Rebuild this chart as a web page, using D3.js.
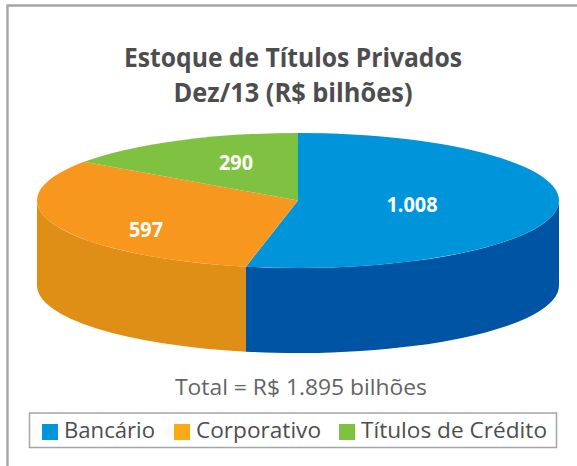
<!DOCTYPE html>
<html><head><meta charset="utf-8">
<script src="https://cdn.jsdelivr.net/npm/d3@7/dist/d3.min.js"></script>
<style>html,body{margin:0;padding:0;background:#fff}svg{display:block}</style>
</head><body><svg id="c" width="577" height="466"></svg>
<script>
const categories = ["Bancário", "Corporativo", "Títulos de Crédito"];
const values = [1008, 597, 290];
const valueLabels = ["1.008", "597", "290"];
const topColors = ["#0095da", "#f8971d", "#7fc241"];
const sideColors = ["#0054a4", "#e08f16", "#6aa436"];
const legendColors = ["#0095da", "#fbaa19", "#7fc241"];
const titleLines = ["Estoque de Títulos Privados", "Dez/13 (R$ bilhões)"];
const totalText = "Total = R$ 1.895 bilhões";

const W = 577, H = 466, cx = 298, cy = 200.5, rx = 261, ry = 67.5, depth = 85;
const font = "'Open Sans','Noto Sans',sans-serif";
const svg = d3.select("#c");

svg.append("path").attr("d", `M${W},5.5H7.5V${H}`).attr("fill", "none").attr("stroke", "#a3a5a7").attr("stroke-width", 2.4);

svg.append("g").selectAll("text").data(titleLines).join("text")
  .attr("x", 293).attr("y", (d, i) => 67 + i * 35).attr("text-anchor", "middle")
  .attr("font-family", "'Open Sans',sans-serif").attr("font-weight", 700).attr("font-size", 27.5)
  .attr("textLength", (d, i) => i ? 239 : 338).attr("lengthAdjust", "spacingAndGlyphs")
  .attr("fill", "#4d4d4f").text(d => d);

const arcs = d3.pie().sort(null).value(d => d)(values);
const px = a => cx + rx * Math.sin(a), py = (a, dy) => cy - ry * Math.cos(a) + dy;

// visible side wall: the front half of the ellipse (angle 90°–270° clockwise from top)
arcs.forEach((a, i) => {
  const s = Math.max(a.startAngle, Math.PI / 2), e = Math.min(a.endAngle, 3 * Math.PI / 2);
  if (e <= s) return;
  const d = `M${px(s)},${py(s, 0)}L${px(s)},${py(s, depth)}` +
    `A${rx},${ry} 0 0 1 ${px(e)},${py(e, depth)}L${px(e)},${py(e, 0)}` +
    `A${rx},${ry} 0 0 0 ${px(s)},${py(s, 0)}Z`;
  svg.append("path").attr("d", d).attr("fill", sideColors[i]);
});

const arcGen = d3.arc().innerRadius(0).outerRadius(rx);
svg.append("g").attr("transform", `translate(${cx},${cy}) scale(1,${ry / rx})`)
  .selectAll("path").data(arcs).join("path").attr("d", arcGen).attr("fill", (d, i) => topColors[i]);

const labelPos = [[412, 204], [146, 229], [236, 162]];
const labelWidths = [51, 34, 34];
svg.append("g").selectAll("text").data(valueLabels).join("text")
  .attr("x", (d, i) => labelPos[i][0]).attr("y", (d, i) => labelPos[i][1])
  .attr("text-anchor", "middle").attr("dominant-baseline", "central")
  .attr("font-family", "'Open Sans',sans-serif").attr("font-weight", 700).attr("font-size", 21)
  .attr("textLength", (d, i) => labelWidths[i]).attr("lengthAdjust", "spacingAndGlyphs")
  .attr("fill", "#fff").text(d => d);

svg.append("text").attr("x", 301).attr("y", 395).attr("text-anchor", "middle")
  .attr("font-family", font).attr("font-size", 21).attr("fill", "#636466")
  .attr("textLength", 252).attr("lengthAdjust", "spacingAndGlyphs").text(totalText);

svg.append("rect").attr("x", 29.5).attr("y", 413).attr("width", 527).attr("height", 34.5)
  .attr("fill", "#fff").attr("stroke", "#a3a5a7").attr("stroke-width", 1.5);
const legendX = [42, 174, 339];
const legendWidths = [91, 125, 186];
const lg = svg.append("g").selectAll("g").data(categories).join("g")
  .attr("transform", (d, i) => `translate(${legendX[i]},424)`);
lg.append("rect").attr("width", 16).attr("height", 16).attr("fill", (d, i) => legendColors[i]);
lg.append("text").attr("x", 22).attr("y", 13.5).attr("font-family", font).attr("font-size", 22)
  .attr("textLength", (d, i) => legendWidths[i]).attr("lengthAdjust", "spacingAndGlyphs")
  .attr("fill", "#4d4d4f").text(d => d);
</script></body></html>
